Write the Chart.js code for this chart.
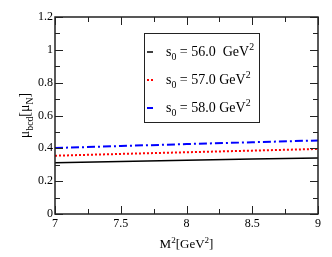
<!DOCTYPE html>
<html><head><meta charset="utf-8">
<script src="https://cdn.jsdelivr.net/npm/chart.js@4/dist/chart.umd.min.js"></script>
<style>html,body{margin:0;padding:0;background:#fff}</style>
</head><body>
<canvas id="c" width="332" height="257"></canvas>
<script>
const xValues = [7, 7.5, 8, 8.5, 9];
const s056 = [0.312, 0.320, 0.328, 0.335, 0.341];
const s057 = [0.355, 0.366, 0.376, 0.386, 0.396];
const s058 = [0.402, 0.414, 0.426, 0.437, 0.448];
const legendNumbers = ["56.0  ", "57.0 ", "58.0 "];
const xTicks = [7, 7.5, 8, 8.5, 9];
const yTicks = [0, 0.2, 0.4, 0.6, 0.8, 1.0, 1.2];

const SERIF = '"Liberation Serif","DejaVu Serif",serif';
function pts(arr){ return xValues.map((x,i)=>({x, y: arr[i]})); }

function rich(ctx, parts, x, y, size){
  let cx = x;
  for (const p of parts){
    let fs = size, dy = 0;
    if (p.sub){ fs = size*0.7; dy = size*0.3; }
    if (p.sup){ fs = size*0.7; dy = -size*0.42; }
    ctx.font = fs + 'px ' + SERIF;
    ctx.fillText(p.t, cx, y + dy);
    cx += ctx.measureText(p.t).width;
  }
  return cx - x;
}
function richWidth(ctx, parts, size){
  let w = 0;
  for (const p of parts){
    const fs = (p.sub||p.sup) ? size*0.7 : size;
    ctx.font = fs + 'px ' + SERIF;
    w += ctx.measureText(p.t).width;
  }
  return w;
}

const series = [
  {data: s056, color: '#000000', dash: [], width: 1.5},
  {data: s057, color: '#ff0000', dash: [2, 2], width: 2},
  {data: s058, color: '#0000ff', dash: [8, 3, 2, 3], width: 2}
];

const deco = {
  id: 'deco',
  afterDraw(chart){
    const ctx = chart.ctx, a = chart.chartArea;
    const xs = chart.scales.x, ys = chart.scales.y;
    ctx.save();
    ctx.strokeStyle = '#222';
    ctx.lineWidth = 1.5;
    ctx.setLineDash([]);
    ctx.strokeRect(a.left, a.top, a.right - a.left, a.bottom - a.top);
    ctx.lineWidth = 1;
    // x ticks
    for (let v = 7; v <= 9.0001; v += 0.25){
      const px = Math.round(xs.getPixelForValue(v)) + 0.5;
      const major = Math.abs(v*2 - Math.round(v*2)) < 1e-6;
      const L = major ? 8 : 5;
      ctx.beginPath();
      ctx.moveTo(px, a.bottom); ctx.lineTo(px, a.bottom - L);
      ctx.moveTo(px, a.top); ctx.lineTo(px, a.top + L);
      ctx.stroke();
    }
    for (let k = 0; k <= 12; k++){
      const v = k/10;
      const py = Math.round(ys.getPixelForValue(v)) + 0.5;
      const L = (k % 2 === 0) ? 8 : 5;
      ctx.beginPath();
      ctx.moveTo(a.left, py); ctx.lineTo(a.left + L, py);
      ctx.moveTo(a.right, py); ctx.lineTo(a.right - L, py);
      ctx.stroke();
    }
    // axis titles
    ctx.fillStyle = '#000';
    ctx.textBaseline = 'alphabetic';
    const xt = [{t:'M'},{t:'2',sup:true},{t:'[GeV'},{t:'2',sup:true},{t:']'}];
    const xw = richWidth(ctx, xt, 13);
    rich(ctx, xt, (a.left + a.right)/2 - xw/2, 248, 13);
    const yt = [{t:'\u03bc'},{t:'bcd',sub:true},{t:'[\u03bc'},{t:'N',sub:true},{t:']'}];
    const yw = richWidth(ctx, yt, 14);
    ctx.save();
    ctx.translate(29, (a.top + a.bottom)/2);
    ctx.rotate(-Math.PI/2);
    rich(ctx, yt, -yw/2, 0, 14);
    ctx.restore();
    // legend box
    ctx.fillStyle = '#fff';
    ctx.fillRect(144, 33, 115, 89);
    ctx.strokeStyle = '#222';
    ctx.lineWidth = 1;
    ctx.strokeRect(144.5, 33.5, 115, 89);
    const rowY = [52, 80, 108];
    series.forEach((s, i) => {
      ctx.strokeStyle = s.color;
      ctx.lineWidth = s.width;
      ctx.setLineDash(s.dash);
      ctx.beginPath();
      ctx.moveTo(147, rowY[i]); ctx.lineTo(153, rowY[i]);
      ctx.stroke();
      ctx.setLineDash([]);
      ctx.fillStyle = '#000';
      rich(ctx, [{t:'s'},{t:'0',sub:true},{t:' = ' + legendNumbers[i] + 'GeV'},{t:'2',sup:true}], 166, rowY[i] + 4, 14);
    });
    ctx.restore();
  }
};

new Chart(document.getElementById('c'), {
  type: 'line',
  data: {
    datasets: series.map(s => ({
      data: pts(s.data),
      borderColor: s.color,
      borderWidth: s.width,
      borderDash: s.dash,
      pointRadius: 0,
      fill: false,
      tension: 0
    }))
  },
  options: {
    responsive: false,
    animation: false,
    events: [],
    layout: {padding: {top: 17, right: 14, left: 0, bottom: 0}},
    plugins: {legend: {display: false}, tooltip: {enabled: false}},
    scales: {
      x: {
        type: 'linear', min: 7, max: 9,
        afterBuildTicks(s){ s.ticks = xTicks.map(v => ({value: v})); },
        afterFit(s){ s.height = 43; },
        grid: {display: false, drawTicks: false},
        border: {display: false},
        ticks: {color: '#000', font: {family: SERIF, size: 12}, padding: 3, maxRotation: 0,
          callback: v => String(v)}
      },
      y: {
        type: 'linear', min: 0, max: 1.2,
        afterBuildTicks(s){ s.ticks = yTicks.map(v => ({value: v})); },
        afterFit(s){ s.width = 55; },
        grid: {display: false, drawTicks: false},
        border: {display: false},
        ticks: {color: '#000', font: {family: SERIF, size: 12}, padding: 2,
          callback: v => String(Math.round(v*10)/10)}
      }
    }
  },
  plugins: [deco]
});
</script>
</body></html>
